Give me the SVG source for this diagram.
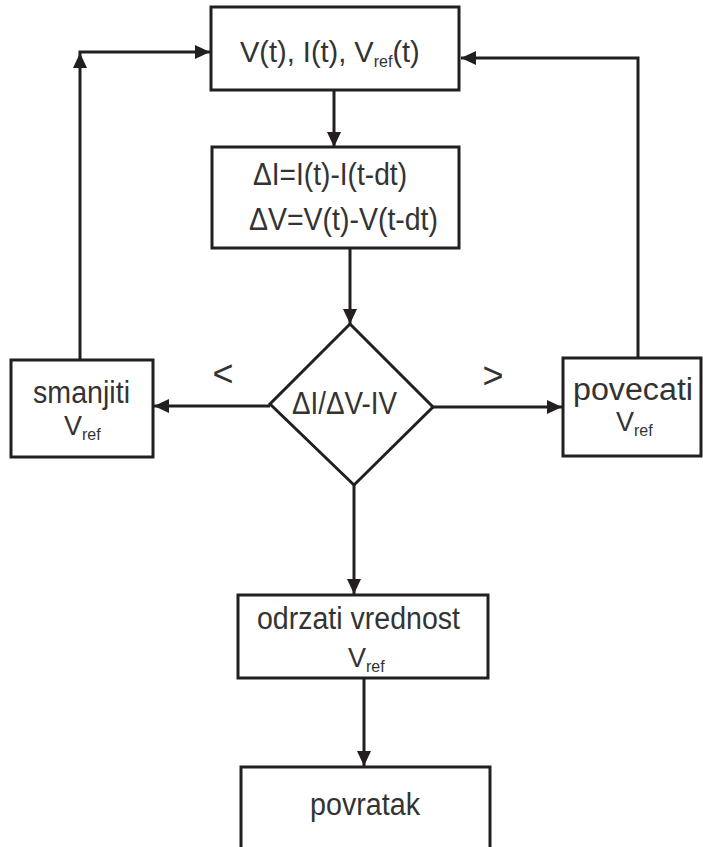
<svg xmlns="http://www.w3.org/2000/svg" width="703" height="847" viewBox="0 0 703 847">
<defs>
<marker id="arr" markerUnits="userSpaceOnUse" markerWidth="16" markerHeight="14" refX="15" refY="7" orient="auto">
<path d="M0,0 L15,7 L0,14 Z" fill="#231f20"/>
</marker>
<style>
.box{fill:#fff;stroke:#231f20;stroke-width:3}
.t{font-family:"Liberation Sans",Arial,sans-serif;font-size:31px;fill:#333}
.s{font-size:16px}
.v{font-size:27px}
.ln{fill:none;stroke:#231f20;stroke-width:3}
</style>
</defs>
<rect width="703" height="847" fill="#fff"/>
<g id="connectors">
<line class="ln" x1="334" y1="90" x2="334" y2="147" marker-end="url(#arr)"/>
<line class="ln" x1="350" y1="248" x2="350" y2="324" marker-end="url(#arr)"/>
<line class="ln" x1="270" y1="406" x2="154" y2="406" marker-end="url(#arr)"/>
<line class="ln" x1="433" y1="407" x2="562" y2="407" marker-end="url(#arr)"/>
<line class="ln" x1="354" y1="485" x2="354" y2="594" marker-end="url(#arr)"/>
<line class="ln" x1="364" y1="678" x2="364" y2="766" marker-end="url(#arr)"/>
<line class="ln" x1="80" y1="360" x2="80" y2="53" marker-end="url(#arr)"/>
<line class="ln" x1="78.5" y1="52" x2="210" y2="52" marker-end="url(#arr)"/>
<polyline class="ln" points="638,358 638,58 461,58" marker-end="url(#arr)"/>
<text class="t" x="223" y="386" text-anchor="middle" style="font-size:36px">&lt;</text>
<text class="t" x="493" y="388" text-anchor="middle" style="font-size:36px">&gt;</text>
</g>
<g id="n-inputs">
<rect class="box" x="211" y="7" width="248" height="83"/>
<text class="t" x="240" y="62" style="font-size:29px">V(t), I(t), V<tspan class="s" dy="5">ref</tspan><tspan dy="-5">(t)</tspan></text>
</g>
<g id="n-delta">
<rect class="box" x="212" y="147" width="247" height="101"/>
<text class="t" x="253" y="185" textLength="154" lengthAdjust="spacingAndGlyphs">ΔI=I(t)-I(t-dt)</text>
<text class="t" x="249" y="230" textLength="189" lengthAdjust="spacingAndGlyphs">ΔV=V(t)-V(t-dt)</text>
</g>
<g id="n-decision">
<polygon class="box" points="350,324 433,407 354,485 270,404"/>
<text class="t" x="292" y="414" textLength="105" lengthAdjust="spacingAndGlyphs">ΔI/ΔV-IV</text>
</g>
<g id="n-smanjiti">
<rect class="box" x="11" y="360" width="142" height="97"/>
<text class="t"><tspan x="33" y="403" textLength="97" lengthAdjust="spacingAndGlyphs">smanjiti</tspan><tspan class="v" x="64" y="435">V</tspan><tspan class="s" dy="5">ref</tspan></text>
</g>
<g id="n-povecati">
<rect class="box" x="563" y="358" width="138" height="98"/>
<text class="t"><tspan x="573" y="400" textLength="120" lengthAdjust="spacingAndGlyphs">povecati</tspan><tspan class="v" x="616" y="431">V</tspan><tspan class="s" dy="5">ref</tspan></text>
</g>
<g id="n-odrzati">
<rect class="box" x="238" y="595" width="250" height="83"/>
<text class="t"><tspan x="257" y="629" textLength="203" lengthAdjust="spacingAndGlyphs">odrzati vrednost</tspan><tspan class="v" x="348" y="667">V</tspan><tspan class="s" dy="5">ref</tspan></text>
</g>
<g id="n-povratak">
<rect class="box" x="241" y="767" width="249" height="90"/>
<text class="t" x="310" y="815" textLength="110" lengthAdjust="spacingAndGlyphs">povratak</text>
</g>
</svg>
